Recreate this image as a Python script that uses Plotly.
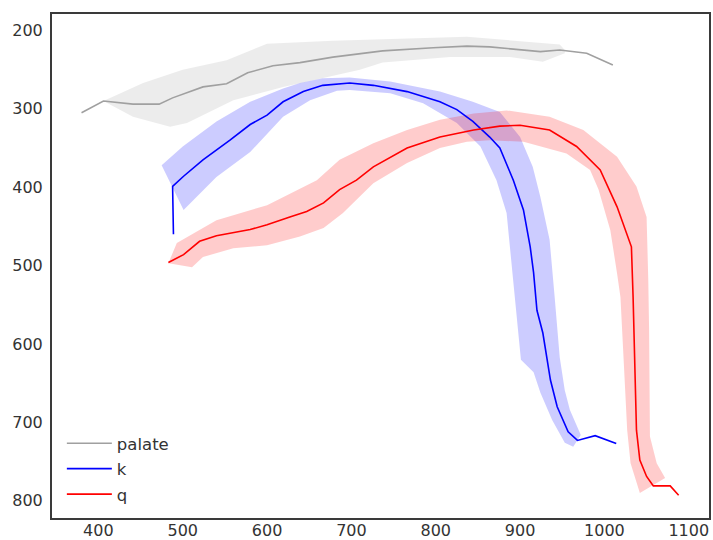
import plotly.graph_objects as go

# ---- palate contour: mean trace and spread envelope ----
palate_x = [380, 406, 441, 472, 488, 524, 552, 577, 607, 639, 678, 737, 797, 837, 864, 896, 924, 947, 979, 1010]
palate_y = [305, 290, 294, 294, 286, 272, 268, 254, 245, 241, 234, 226, 222, 220, 221, 224, 227, 225, 229, 244]

palate_up_x = [406, 453, 500, 552, 600, 678, 837, 920, 947, 953]
palate_up_y = [290, 267, 250, 238, 217, 213, 208, 215, 218, 225]
palate_lo_x = [406, 441, 485, 505, 560, 619, 710, 737, 817, 888, 927, 953]
palate_lo_y = [290, 310, 323, 318, 289, 272, 250, 241, 234, 234, 240, 229]

# ---- /k/ tongue contour ----
k_x = [489, 488, 501, 524, 556, 580, 600, 619, 643, 666, 698, 726, 766, 805, 825, 844, 864,
       876, 892, 904, 912, 916, 920, 927, 936, 944, 957, 968, 989, 1014]
k_y = [460, 399, 386, 365, 340, 320, 308, 291, 278, 270, 267, 270, 278, 291, 301, 316, 336,
       350, 391, 429, 476, 509, 557, 586, 646, 680, 712, 723, 717, 727]

k_up_x = [475, 500, 540, 580, 619, 639, 666, 698, 746, 805, 844, 876, 900, 915, 924, 935,
          941, 947, 953, 959, 972, 963]
k_up_y = [372, 348, 316, 291, 274, 267, 261, 260, 265, 278, 291, 304, 336, 374, 412, 467,
          540, 617, 659, 684, 716, 731]
k_lo_x = [475, 501, 540, 580, 619, 651, 683, 698, 746, 785, 825, 853, 872, 884, 888, 892,
          901, 916, 924, 938, 953, 963]
k_lo_y = [372, 429, 387, 355, 310, 289, 277, 276, 280, 293, 318, 348, 391, 433, 480, 518,
          620, 636, 662, 697, 726, 731]

# ---- /q/ tongue contour ----
q_x = [483, 501, 520, 540, 580, 600, 627, 647, 667, 686, 706, 726, 766, 805, 845, 876, 900,
       935, 967, 995, 1015, 1032, 1034, 1036, 1038, 1042, 1050, 1058, 1078, 1088]
q_y = [496, 486, 469, 462, 454, 448, 438, 431, 420, 403, 391, 374, 350, 336, 327, 322, 321,
       327, 348, 378, 425, 476, 540, 625, 710, 748, 769, 781, 781, 793]

q_up_x = [483, 493, 540, 600, 659, 686, 726, 766, 805, 845, 884, 935, 975, 1015, 1038, 1050,
          1052, 1053, 1054, 1062, 1072]
q_up_y = [497, 471, 442, 423, 391, 365, 344, 327, 314, 306, 302, 310, 327, 361, 399, 438,
          518, 582, 718, 752, 771]
q_lo_x = [483, 511, 524, 560, 600, 639, 667, 690, 726, 766, 805, 837, 864, 904, 955, 983,
          993, 1007, 1015, 1019, 1023, 1027, 1031, 1042, 1072]
q_lo_y = [497, 502, 489, 478, 474, 463, 452, 433, 395, 369, 350, 342, 340, 342, 357, 378,
          403, 455, 510, 540, 625, 710, 752, 790, 771]

x_ticks = [400, 500, 600, 700, 800, 900, 1000, 1100]
y_ticks = [200, 300, 400, 500, 600, 700, 800]

series = [
    ("palate", palate_x, palate_y, palate_up_x, palate_up_y, palate_lo_x, palate_lo_y,
     "#a0a0a0", "rgba(128,128,128,0.15)"),
    ("k", k_x, k_y, k_up_x, k_up_y, k_lo_x, k_lo_y,
     "#0000ff", "rgba(0,0,255,0.2)"),
    ("q", q_x, q_y, q_up_x, q_up_y, q_lo_x, q_lo_y,
     "#ff0000", "rgba(255,0,0,0.2)"),
]

fig = go.Figure()

for name, lx, ly, ux, uy, bx, by, line_col, fill_col in series:
    # envelope polygon: outer edge followed by the inner edge walked backwards
    px = list(ux) + list(reversed(bx))
    py = list(uy) + list(reversed(by))
    fig.add_trace(go.Scatter(
        x=px, y=py, mode="lines", fill="toself", fillcolor=fill_col,
        line=dict(width=0, color=fill_col), hoverinfo="skip",
        showlegend=False, legendgroup=name,
    ))

for name, lx, ly, ux, uy, bx, by, line_col, fill_col in series:
    fig.add_trace(go.Scatter(
        x=lx, y=ly, mode="lines", name=name, legendgroup=name,
        line=dict(color=line_col, width=1.6),
    ))

tick_font = dict(family="DejaVu Sans", size=16, color="#333333")
axis_common = dict(
    showgrid=False, zeroline=False, showline=True, mirror=True,
    linecolor="#3a3a3a", linewidth=2,
    ticks="", tickfont=tick_font,
)

fig.update_layout(
    width=713, height=540,
    margin=dict(l=52, r=4, t=14, b=22, autoexpand=False),
    paper_bgcolor="white", plot_bgcolor="white",
    xaxis=dict(range=[345, 1124], tickvals=x_ticks, automargin=False,
               ticklabelstandoff=-3, **axis_common),
    yaxis=dict(range=[822, 179], tickvals=y_ticks, automargin=False,
               ticklabelstandoff=4, **axis_common),
    legend=dict(
        x=0.015, y=0.012, xanchor="left", yanchor="bottom",
        bgcolor="rgba(0,0,0,0)", borderwidth=0,
        font=dict(family="DejaVu Sans", size=16.5, color="#333333"),
        tracegroupgap=1, traceorder="grouped", itemwidth=45,
    ),
    showlegend=True,
)

fig.write_html("out.html")
